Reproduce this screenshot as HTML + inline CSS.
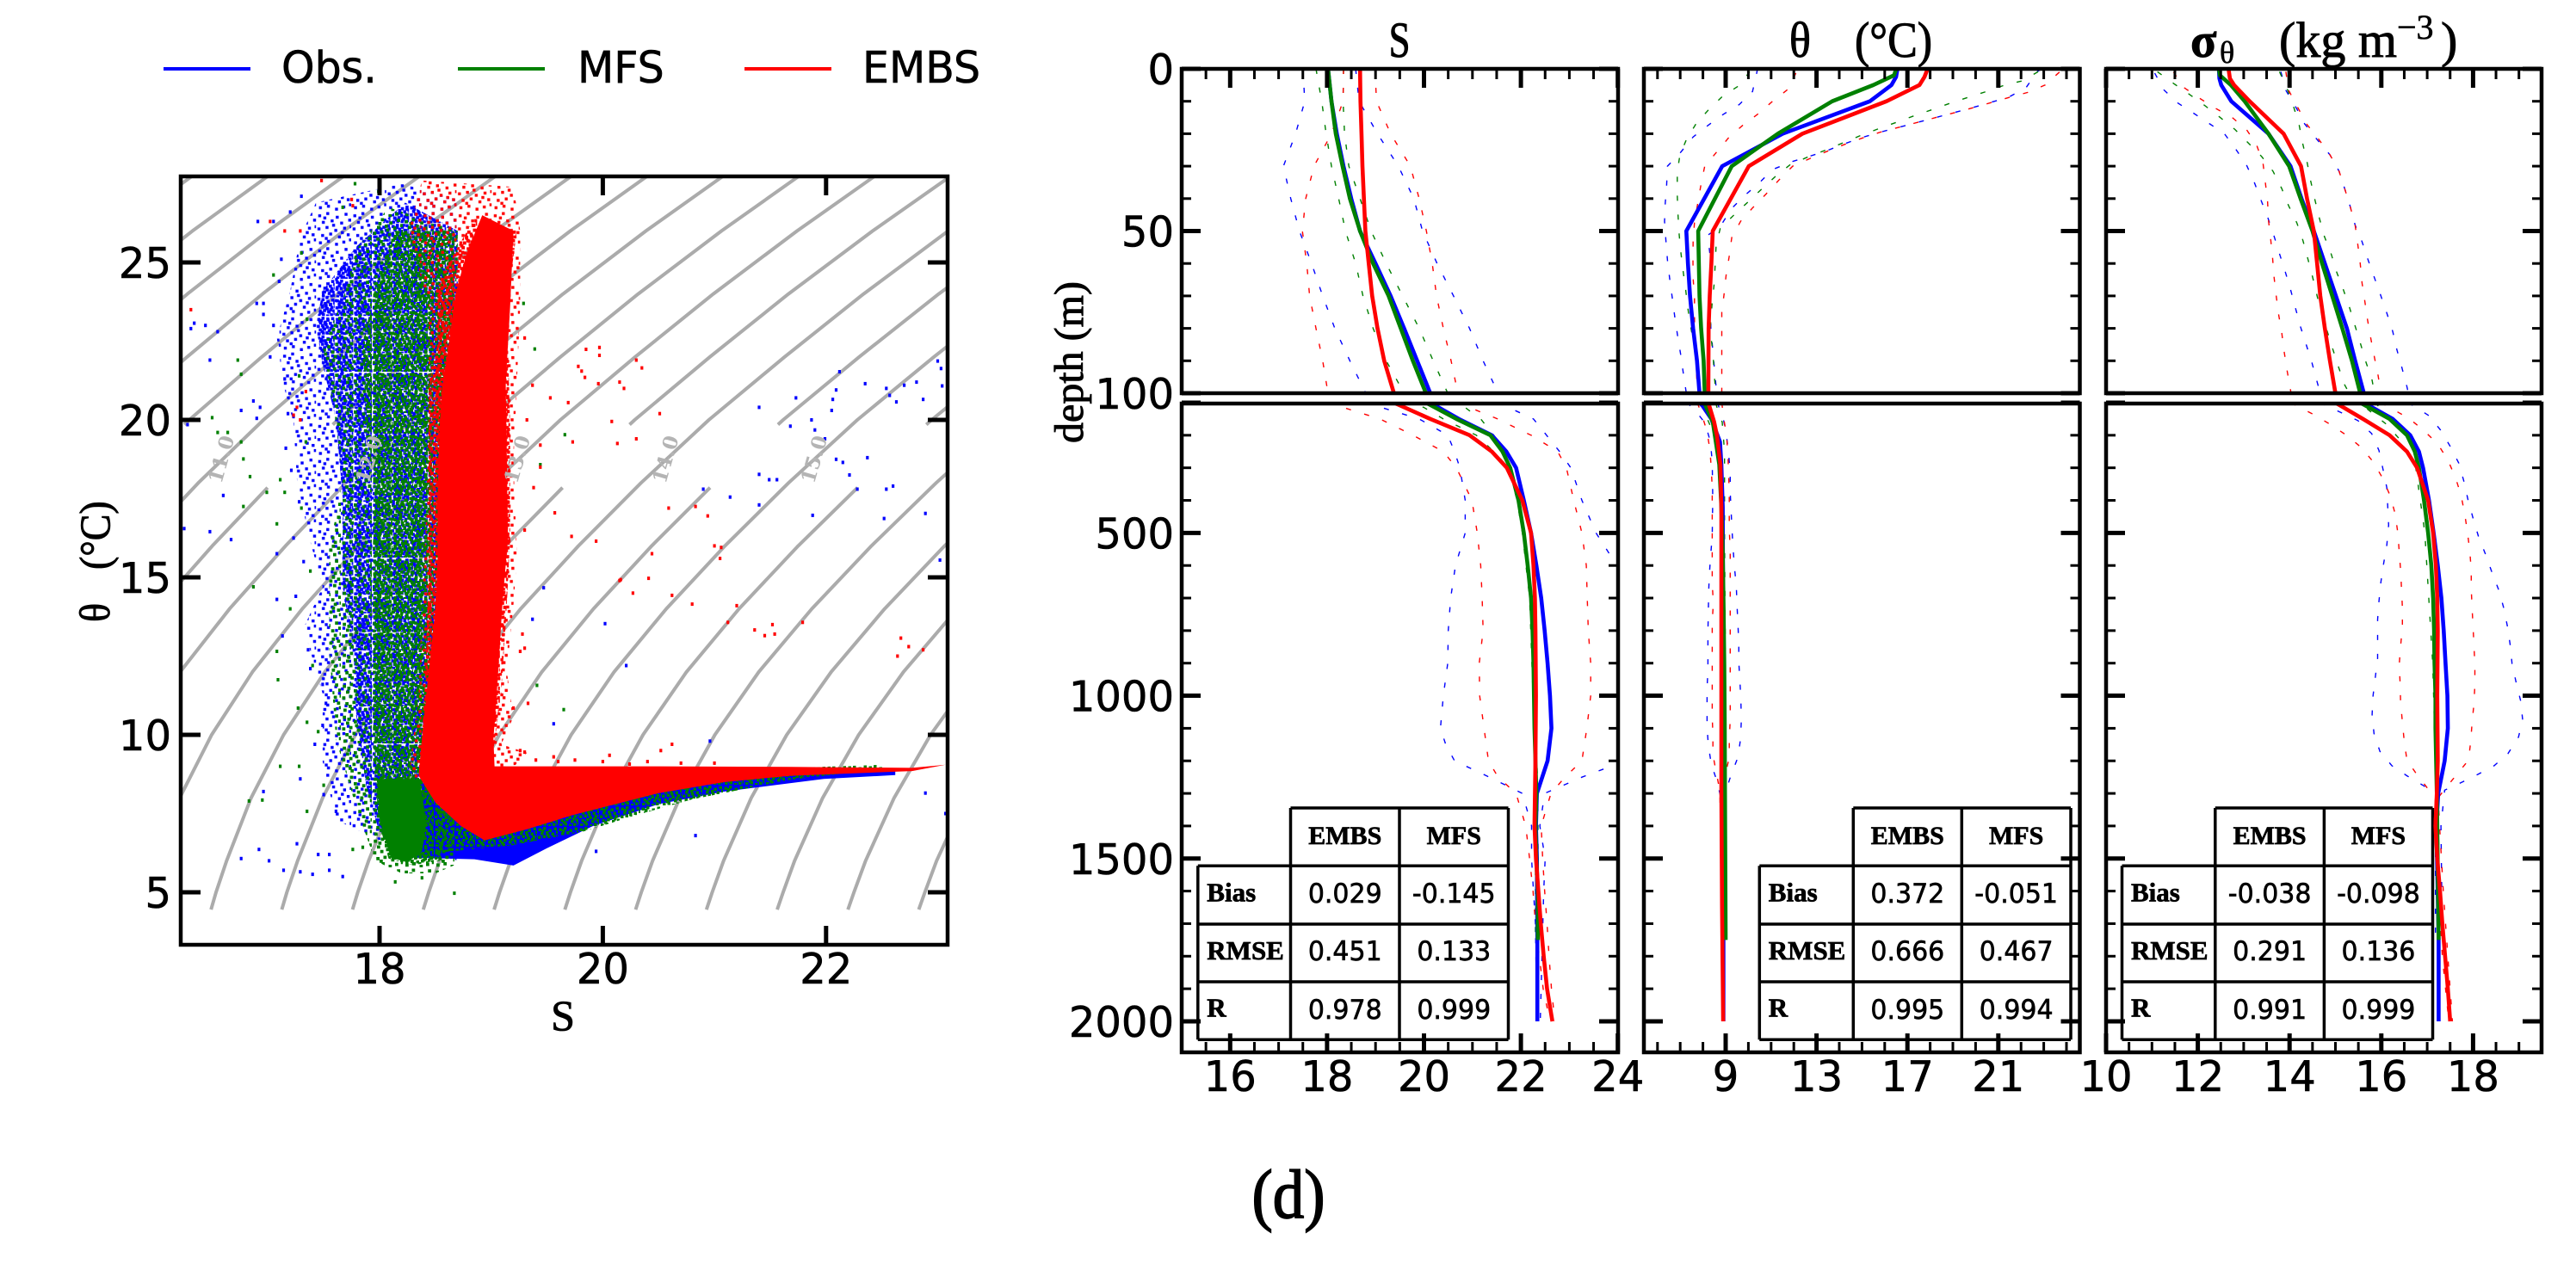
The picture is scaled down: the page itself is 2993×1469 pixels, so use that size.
<!DOCTYPE html>
<html lang="en">
<head>
<meta charset="utf-8">
<title>T-S diagram and vertical profiles</title>
<style>
html,body{margin:0;padding:0;background:#fff;overflow:hidden;}
svg{display:block;}
</style>
</head>
<body>
<svg id="figure" xmlns="http://www.w3.org/2000/svg" width="2993" height="1469" viewBox="0 0 2993 1469">
<defs id="defs">
<clipPath id="clip-ts"><rect x="210" y="205" width="891" height="893"/></clipPath>
<clipPath id="clip-s-up"><rect x="1373" y="80" width="507" height="377"/></clipPath>
<clipPath id="clip-s-lo"><rect x="1373" y="469" width="507" height="754"/></clipPath>
<clipPath id="clip-theta-up"><rect x="1910" y="80" width="506.5" height="377"/></clipPath>
<clipPath id="clip-theta-lo"><rect x="1910" y="469" width="506.5" height="754"/></clipPath>
<clipPath id="clip-sigma-up"><rect x="2447" y="80" width="506" height="377"/></clipPath>
<clipPath id="clip-sigma-lo"><rect x="2447" y="469" width="506" height="754"/></clipPath>
</defs>
<rect x="0" y="0" width="2993" height="1469" fill="#fff"/>
<g id="root"></g>
</svg>
<script>
/* ---------- legend ---------- */
const legendLabels = ['Obs.', 'MFS', 'EMBS'];
const seriesColors = ['#0000ff', '#008000', '#ff0000'];

/* ---------- T-S scatter: axis ticks ---------- */
const tsSalinityTicks = [18, 20, 22];
const tsThetaTicks = [5, 10, 15, 20, 25];

/* ---------- T-S scatter: isopycnal contours ---------- */
const isoTheta = [4.45, 5, 6, 8, 10, 12, 14, 16, 18, 20, 22, 24, 26, 28];
const isoOffset = [0, 0.045, 0.14, 0.36, 0.65, 1.02, 1.47, 1.98, 2.53, 3.13, 3.8, 4.5, 5.25, 6.05];
const isoSpacing = [0.634, 0.635, 0.636, 0.64, 0.644, 0.648, 0.652, 0.656, 0.661, 0.665, 0.669, 0.673, 0.677, 0.68];
const isoLevels = [-9, -8, -7, -6, -5, -4, -3, -2, -1, 0, 1, 2, 3, 4, 5, 6, 7, 8, 9, 10];
const isoGapLevels = [-5, -3, -1, 1, 3, 5];
const isoGapTheta = [17.85, 19.85];
const isoLabels = ['11.0', '12.0', '13.0', '14.0', '15.0'];
const isoLabelSalinity = [16.58, 17.9, 19.23, 20.56, 21.89];
const isoLabelTheta = 18.8;

/* ---------- T-S scatter: cloud envelopes [S, theta] ---------- */
const blueSparseCloud = [[18.2,27.5],[17.43,26.9],[17.29,25.8],[17.2,24.1],[17.08,22.6],[17.14,21.1],[17.23,19.9],[17.26,18.1],[17.37,16.25],[17.49,14.7],[17.32,13.4],[17.49,11.3],[17.49,9.15],[17.61,7.3],[17.96,6.7],[18.7,6],[18.7,27]];
const blueDenseCloud = [[18.23,26.9],[17.79,25.5],[17.49,24.1],[17.43,23],[17.49,21.75],[17.61,20],[17.67,17.5],[17.67,15],[17.67,14.7],[17.76,12.7],[17.79,10.6],[17.88,8.4],[17.99,7],[18.14,6.3],[18.44,6.07],[18.7,6.1],[18.7,26]];
const blueWedge = [[18.3,6.1],[18.85,6.05],[19.2,5.85],[19.5,6.4],[19.91,7.1],[20.5,7.8],[21.09,8.2],[21.98,8.6],[22.62,8.72],[22.62,8.85],[18.4,8.85]];
const greenSparseCloud = [[18.08,26.75],[17.79,25.4],[17.67,23.8],[17.49,22.35],[17.61,19.9],[17.67,18.1],[17.55,15.9],[17.55,12.7],[17.61,9.85],[17.79,7.7],[17.96,6],[18.2,5.6],[18.5,5.6],[18.67,5.86],[18.7,26]];
const greenDenseCloud = [[18.14,26],[17.96,24.2],[17.85,22.4],[17.88,19.9],[17.96,17.5],[17.91,15],[17.94,13.4],[17.94,9.85],[17.99,7.3],[18.08,6.07],[18.29,5.86],[18.55,6],[18.7,26]];
const greenCore = [[17.98,8.6],[18,7.3],[18.1,6.1],[18.25,5.95],[18.38,6.3],[18.42,7.2],[18.36,8.6]];
const greenWedge = [[18.35,6.2],[19.2,6.5],[19.85,6.95],[20.3,7.45],[20.8,7.95],[21.68,8.57],[22.5,8.92],[22.52,9.05],[21.68,8.95],[18.35,8.95]];
const redSparseCloud = [[18.38,27.6],[19.2,27.4],[19.26,26],[19.26,23.6],[19.23,21.15],[19.2,18.7],[19.23,15.65],[19.2,14.15],[19.14,12],[19.2,10.57],[19.09,9.7],[19.32,9.43],[19.1,8.6],[18.26,8.6],[18.35,11.3],[18.38,14.15],[18.41,16.25],[18.44,19.9],[18.44,23.6],[18.26,26]];
const redDenseCloud = [[18.85,26.4],[18.67,25.3],[18.52,24.2],[18.52,22.4],[18.44,21.15],[18.44,19.9],[18.44,17.5],[18.44,15],[18.41,12],[18.38,9.85],[18.38,8.7],[19,9],[19.09,11.3],[19.14,14.15],[19.17,16.25],[19.17,19.9],[19.14,23.6],[19.23,26]];
const redCore = [[18.92,26.5],[18.78,25.3],[18.68,24],[18.62,22.4],[18.56,21],[18.54,19.9],[18.52,17.5],[18.52,15.6],[18.5,14],[18.44,12],[18.38,9.9],[18.35,8.7],[18.5,7.85],[18.73,7.1],[18.94,6.65],[19.32,7],[19.73,7.45],[20.5,8.15],[21.09,8.5],[21.68,8.7],[22.77,8.85],[23.07,9.05],[22.77,8.95],[21.68,8.98],[20.5,9],[19.32,9],[19.03,9],[19.02,9.87],[19.05,11.3],[19.1,14.15],[19.15,16.25],[19.14,18.7],[19.13,21.15],[19.17,23.6],[19.2,26]];

/* ---------- T-S scatter: individually visible points [S, theta] ---------- */
const bluePoints = [[23,21.87],[23.03,21.63],[22.12,21.53],[22.35,21.15],[22.54,21],[22.7,21.1],[22.81,21.2],[23.04,21.08],[22.09,20.95],[22.06,20.65],[21.73,20.7],[22.57,20.78],[22.63,20.57],[22.87,20.65],[21.4,20.4],[22.05,20.3],[21.87,20],[21.68,19.8],[21.9,19.68],[21.99,19.4],[22.09,18.75],[22.15,18.65],[22.37,18.8],[22.21,18.25],[21.4,18.27],[21.49,18.1],[21.56,18.1],[20.9,17.8],[21.14,17.55],[21.4,17.3],[22.28,17.8],[22.54,17.8],[22.6,17.9],[21.88,16.97],[22.52,16.87],[22.89,17.03],[19.47,14.67],[23.02,15.55],[19.37,13.67],[20.02,13.53],[20.21,12.2],[19.56,10.35],[20.96,9.8],[22.89,8.15],[19.94,6.3],[20.83,6.8],[23.07,7.5],[16.31,22.9],[16.34,23.07],[16.44,23],[16.55,22.8],[16.91,26.3],[17.05,26.3],[16.9,23.7],[16.96,23.7],[16.96,23.35],[16.48,21.9],[16.28,19.85],[16.37,20],[16.25,16.55],[16.48,16.45],[16.67,16.2],[16.6,17.6],[16.76,20.3],[16.87,20.6],[16.9,20.05],[16.93,20.4],[17.08,15.75],[17.23,16.25],[16.76,6.07],[16.92,6.36],[17.01,6],[17.14,5.7],[17.29,5.65],[17.4,5.57],[17.55,5.7],[17.67,5.5],[17.26,6.54],[17.45,6.2],[17.55,6.2],[17.08,14.3],[17.13,13.14],[17.36,12.7],[17.49,11.6],[17.52,11],[17.49,10.3],[17.29,8.6],[16.96,8.2],[17.61,7.57],[17.05,23],[17.1,24.4],[17.12,25.1],[17.2,26.6],[17.3,27.1],[17.02,22],[17.15,21.3],[17.18,20.2],[17.16,19.1],[17.21,18.4],[17.28,17.4],[17.32,15.5],[17.25,14.4],[17.38,12.1],[17.42,9.7],[17.5,8.1]];
const greenPoints = [[16.5,20.07],[16.55,19.6],[16.64,19.6],[16.76,19.3],[16.78,18.76],[16.84,18.2],[16.99,17.7],[17.11,18.1],[17.15,17.7],[16.78,17.25],[17.08,16.7],[16.76,21.45],[16.73,21.9],[17.05,24.6],[17.78,27.5],[17.99,27.25],[17.67,26.75],[19.29,23.7],[19.39,22.25],[19.66,19.53],[19.44,18.58],[16.87,14.7],[17.2,14],[17.08,12.65],[17.09,11.75],[17.27,10.85],[17.35,10.4],[17.11,9],[17.28,9],[16.83,7.9],[16.95,7.93],[17.35,7.57],[17.76,6.36],[17.85,6.43],[19.41,11.57],[19.65,10.8],[18.67,4.97],[18.14,5.33],[18.38,5.46],[17.3,25.3],[17.35,23.2],[17.28,21.4],[17.34,19.3],[17.3,17.2],[17.38,15.2],[17.4,12.2],[17.45,10.1],[17.5,8.4]];
const redPoints = [[19.85,22.24],[19.97,22.3],[19.97,22.05],[20.3,21.9],[20.35,21.65],[19.78,21.7],[19.81,21.55],[19.84,21.35],[19.96,21.15],[20.15,21.2],[20.19,21],[19.37,21.1],[19.53,20.7],[19.69,20.55],[20.51,20.2],[20.08,19.95],[20.3,19.4],[20.13,19.25],[19.73,19.3],[19.44,19.2],[19.44,18.5],[19.38,17.85],[19.57,17.05],[19.72,16.3],[19.94,16.15],[20.59,17.2],[20.83,17.25],[20.94,16.95],[20.44,15.75],[21,16],[21.06,15.95],[21.05,15.6],[20.15,14.9],[16.31,23.5],[17.02,26.3],[17.15,26],[17.29,26],[17.23,20.15],[17.26,20.4],[17.29,20],[17.34,20.9],[17.48,27.6],[17.75,27],[17.76,26.8],[20.16,14.93],[20.41,14.97],[20.27,14.5],[20.62,14.43],[20.8,14.15],[21.2,14.1],[21.12,13.57],[21.36,13.33],[21.52,13.5],[21.54,13.2],[21.45,13.15],[21.79,13.57],[22.67,13.07],[22.74,12.8],[22.87,12.7],[22.64,12.5],[20.62,9.7],[20.52,9.5],[19.26,12.65],[19.3,12.75],[19.2,10.85],[19.26,9.5],[19.56,9.3],[20.06,9.35],[20.24,9.07],[19.3,9.45],[19.4,9.2],[19.6,9.15],[19.75,9.2],[20,9.15],[20.4,9.15],[20.7,9.1],[21,9.1],[19.3,22.6],[19.32,20],[19.3,16.5],[19.28,13.2],[19.33,11]];

/* ---------- Profile panels: axis ticks ---------- */
const sMajorTicks = [16, 18, 20, 22, 24];
const sMinorTicks = [15.5, 16.5, 17, 17.5, 18.5, 19, 19.5, 20.5, 21, 21.5, 22.5, 23, 23.5];
const thetaMajorTicks = [9, 13, 17, 21];
const thetaMinorTicks = [6, 7, 8, 10, 11, 12, 14, 15, 16, 18, 19, 20, 22, 23, 24];
const sigmaMajorTicks = [10, 12, 14, 16, 18];
const sigmaMinorTicks = [10.5, 11, 11.5, 12.5, 13, 13.5, 14.5, 15, 15.5, 16.5, 17, 17.5, 18.5, 19];
const upperDepthMajor = [0, 50, 100];
const upperDepthMinor = [10, 20, 30, 40, 60, 70, 80, 90];
const lowerDepthMajor = [100, 500, 1000, 1500, 2000];
const lowerDepthMinor = [200, 300, 400, 600, 700, 800, 900, 1100, 1200, 1300, 1400, 1600, 1700, 1800, 1900];

/* ---------- Salinity profiles [value, depth] ---------- */
const sObsMean = [[18.02,0],[18.09,10],[18.2,20],[18.34,30],[18.5,40],[18.68,50],[19,60],[19.31,70],[19.59,80],[19.86,90],[20.13,100],[20.72,150],[21.4,200],[21.7,250],[21.9,300],[22.06,400],[22.21,500],[22.32,600],[22.42,700],[22.49,800],[22.55,900],[22.6,1000],[22.63,1100],[22.55,1200],[22.33,1300],[22.31,1400],[22.33,1500],[22.34,1750],[22.34,2000]];
const sMfsMean = [[18.02,0],[18.09,10],[18.18,20],[18.32,30],[18.47,40],[18.68,50],[18.95,60],[19.27,70],[19.52,80],[19.77,90],[20.04,100],[20.67,150],[21.37,200],[21.62,250],[21.78,300],[21.95,400],[22.06,500],[22.14,600],[22.21,700],[22.24,800],[22.26,900],[22.27,1000],[22.28,1100],[22.32,1300],[22.3,1400],[22.32,1500],[22.35,1600],[22.35,1750]];
const sEmbsMean = [[18.68,0],[18.69,10],[18.71,20],[18.73,30],[18.76,40],[18.79,50],[18.86,60],[18.93,70],[19.04,80],[19.18,90],[19.38,100],[20.13,150],[20.94,200],[21.4,250],[21.71,300],[22.03,400],[22.21,500],[22.26,600],[22.29,700],[22.3,800],[22.31,1000],[22.3,1200],[22.28,1400],[22.31,1500],[22.36,1600],[22.41,1700],[22.47,1800],[22.54,1900],[22.65,2000]];
const sObsLow = [[17.5,0],[17.54,10],[17.35,20],[17.1,30],[17.25,40],[17.43,50],[17.68,60],[17.91,70],[18.16,80],[18.47,90],[18.8,100],[19.9,150],[20.49,200],[20.63,250],[20.74,300],[20.85,400],[20.85,500],[20.65,600],[20.55,700],[20.5,800],[20.49,900],[20.4,1000],[20.34,1100],[20.45,1150],[20.63,1200],[21.35,1250],[22.03,1300],[22.22,1400],[22.22,1500],[22.26,1600],[22.3,1700],[22.33,2000]];
const sObsHigh = [[18.59,0],[18.66,10],[19.04,20],[19.47,30],[19.79,40],[19.97,50],[20.27,60],[20.61,70],[20.94,80],[21.22,90],[21.53,100],[22.26,150],[22.53,200],[22.8,250],[23.03,300],[23.26,400],[23.55,500],[23.98,600],[24.3,700],[24.5,800],[24.6,900],[24.6,1000],[24.5,1100],[23.98,1210],[23.26,1250],[22.49,1300],[22.39,1400],[22.5,1500],[22.47,1600],[22.4,2000]];
const sMfsLow = [[17.77,0],[17.89,10],[17.98,20],[18.09,30],[18.24,40],[18.38,50],[18.59,60],[18.74,70],[18.95,80],[19.22,90],[19.59,100],[19.99,114],[20.4,150],[21.08,200],[21.44,250],[21.75,300],[21.92,400],[22.03,500],[22.18,700],[22.25,1000],[22.3,1300],[22.3,1750]];
const sMfsHigh = [[18.34,0],[18.33,10],[18.36,20],[18.45,30],[18.68,40],[18.91,50],[19.22,60],[19.56,70],[19.9,80],[20.19,90],[20.49,100],[20.85,115],[21.17,150],[21.44,200],[21.67,250],[21.8,300],[21.97,400],[22.08,500],[22.21,700],[22.29,1000],[22.35,1300],[22.36,1750]];
const sEmbsLow = [[18.34,0],[18.33,10],[18.09,20],[17.73,30],[17.56,40],[17.49,50],[17.58,60],[17.64,70],[17.77,80],[17.91,90],[18.02,100],[19.09,150],[19.77,200],[20.4,250],[20.67,300],[20.99,400],[21.1,500],[21.17,600],[21.2,700],[21.22,800],[21.14,900],[21.15,1000],[21.24,1100],[21.33,1200],[21.53,1250],[21.9,1300],[22.1,1400],[22.18,1500],[22.25,1600],[22.3,1700],[22.38,1800],[22.46,1900],[22.6,2000]];
const sEmbsHigh = [[18.99,0],[19.02,10],[19.31,20],[19.72,30],[19.9,40],[20.05,50],[20.17,60],[20.26,70],[20.4,80],[20.56,90],[20.7,100],[21.52,150],[22.21,200],[22.76,250],[22.94,300],[23.09,400],[23.26,500],[23.35,600],[23.37,700],[23.39,800],[23.44,900],[23.44,1000],[23.36,1100],[23.26,1200],[22.91,1250],[22.62,1300],[22.42,1400],[22.45,1500],[22.49,1600],[22.54,1700],[22.58,1800],[22.63,1900],[22.7,2000]];

/* ---------- Temperature profiles [value, depth] ---------- */
const thetaObsMean = [[16.56,0],[16.5,2.5],[16.3,5],[15.35,10],[11.51,20],[8.85,30],[7.27,50],[7.34,60],[7.43,70],[7.57,80],[7.74,90],[7.85,100],[7.99,110],[8.37,150],[8.56,185],[8.75,220],[8.81,290],[8.87,420],[8.9,1000],[8.9,2000]];
const thetaMfsMean = [[16.51,0],[16.41,2],[15.5,5],[13.69,10],[11.3,20],[9.27,30],[7.79,50],[7.85,70],[7.92,80],[8.03,90],[8.08,100],[8.12,110],[8.43,158],[8.72,290],[8.81,420],[8.87,555],[8.91,730],[8.94,907],[8.96,1083],[8.97,1294],[9,1750]];
const thetaEmbsMean = [[17.89,0],[17.75,2.5],[17.53,5],[16.08,10],[12.38,20],[10.02,30],[8.43,50],[8.37,60],[8.3,70],[8.25,80],[8.24,100],[8.28,110],[8.49,158],[8.62,202],[8.77,290],[8.81,422],[8.81,1294],[8.84,1647],[8.89,2000]];
const thetaObsLow = [[10.4,0],[10.35,2],[10.18,7],[9.6,11],[8.9,14],[8.21,17.5],[7.57,21],[6.99,26],[6.44,30],[6.4,36],[6.34,41.5],[6.31,47],[6.37,53],[6.44,59],[6.54,65],[6.66,71],[6.76,76.5],[6.88,82],[7.02,88],[7.14,94],[7.27,100],[7.55,114],[8.09,162],[8.33,220],[8.41,281],[8.43,392],[8.41,510],[8.34,568],[8.28,630],[8.25,687],[8.24,744],[8.22,801],[8.22,920],[8.18,977],[8.18,1096],[8.24,1153],[8.37,1211],[8.62,1263],[8.81,1320],[8.81,1800],[8.87,2000]];
const thetaObsHigh = [[22.9,0],[22.7,0.9],[22.23,5.7],[21.47,8.7],[20.64,10.4],[19.85,12],[19.05,13.5],[18.25,15],[17.45,16.5],[16.63,18],[15.82,19.5],[14.99,21.2],[14.19,23.2],[13.47,25.2],[12.67,27],[11.88,28.7],[11.08,31],[10.5,35],[9.85,39],[9.27,43],[8.76,48.6],[8.21,51.3],[8.3,56.6],[8.35,80],[8.5,92],[8.58,98],[8.62,100],[8.87,140],[9.03,198],[9.13,255],[9.2,315],[9.2,374],[9.24,431],[9.28,491],[9.33,550],[9.39,607],[9.47,665],[9.5,722],[9.54,782],[9.58,841],[9.58,898],[9.63,955],[9.67,1015],[9.69,1074],[9.66,1131],[9.54,1189],[9.25,1241],[9,1294],[8.87,1603],[8.87,2000]];
const thetaMfsLow = [[10.06,0.9],[9.56,5.3],[8.87,8.4],[8.25,12.6],[7.71,16.8],[7.28,21.7],[6.99,26.5],[6.87,31.8],[6.87,39],[6.9,44.7],[6.95,50.8],[7.02,56],[7.12,62],[7.24,68],[7.34,74],[7.45,79],[7.6,85],[7.72,90.6],[7.82,96],[7.89,100],[7.95,110],[8.5,200],[8.75,300],[8.87,500],[8.95,1000],[8.97,1750]];
const thetaMfsHigh = [[22.75,0.9],[22.06,3.7],[21.25,5.1],[20.47,7],[19.66,8.8],[18.88,10.6],[18.08,12.6],[17.28,14.5],[16.51,16.5],[15.75,18.4],[14.96,20.5],[14.2,22.7],[13.42,25],[12.67,27],[11.83,29.6],[11.22,33],[10.61,36.9],[9.99,41],[9.37,45],[8.76,49.2],[8.58,54.4],[8.5,65.9],[8.4,72.5],[8.32,80.5],[8.44,87.5],[8.51,95.5],[8.58,100],[8.6,110],[8.85,160],[8.95,250],[8.95,500],[9,1000],[9.02,1750]];
const thetaEmbsLow = [[12.09,1.3],[11.76,6.2],[11.08,9.9],[10.47,13.7],[9.77,17.3],[9.16,21],[8.61,25.6],[8.08,30],[7.92,35.4],[7.77,41.6],[7.63,47.3],[7.57,53],[7.56,58.8],[7.57,64.5],[7.63,70.7],[7.63,82],[7.69,88],[7.72,93.7],[7.75,100],[7.93,132],[8.18,189],[8.31,246],[8.37,306],[8.41,365],[8.41,656],[8.46,715],[8.41,773],[8.41,1066],[8.44,1122],[8.44,1181],[8.6,1240],[8.75,1294],[8.85,2000]];
const thetaEmbsHigh = [[23.69,1],[23.06,5],[22.28,7.3],[21.48,8.8],[20.69,10.4],[19.89,12],[19.08,13.5],[18.25,15],[17.45,16.5],[16.63,18],[15.82,19.5],[14.99,21.4],[14.24,23.3],[13.47,25.4],[12.72,27.6],[11.95,30],[11.34,34.3],[10.79,38.5],[10.18,42.9],[9.66,47],[9.27,52],[9.15,58],[9.02,63.7],[8.93,69.4],[8.83,75],[8.83,100],[8.91,145],[9.04,202],[9.1,257],[9.13,317],[9.16,374],[9.16,491],[9.2,550],[9.2,1074],[9.16,1133],[9.16,1190],[8.97,1246],[8.9,1294],[8.92,2000]];

/* ---------- Density profiles [value, depth] ---------- */
const sigmaObsMean = [[12.46,0],[12.47,3],[12.51,5],[12.73,10],[13.54,20],[14.02,30],[14.26,40],[14.53,50],[14.77,60],[15.01,70],[15.25,80],[15.43,90],[15.62,100],[16.25,150],[16.63,200],[16.82,250],[16.91,300],[17.04,400],[17.14,500],[17.23,600],[17.31,700],[17.36,800],[17.4,900],[17.44,1000],[17.45,1100],[17.38,1200],[17.24,1300],[17.2,1400],[17.25,1750],[17.25,2000]];
const sigmaMfsMean = [[12.46,0],[12.48,2],[12.72,5],[13.02,10],[13.54,20],[13.99,30],[14.24,40],[14.5,50],[14.71,60],[14.93,70],[15.15,80],[15.36,90],[15.54,100],[16.18,150],[16.56,200],[16.73,250],[16.82,300],[16.93,400],[17.02,500],[17.09,600],[17.13,700],[17.15,800],[17.16,900],[17.18,1000],[17.18,1100],[17.21,1300],[17.22,1400],[17.25,1750]];
const sigmaEmbsMean = [[12.67,0],[12.7,3],[12.79,5],[13.13,10],[13.87,20],[14.25,30],[14.38,40],[14.53,50],[14.6,60],[14.67,70],[14.77,80],[14.88,90],[15,100],[15.6,150],[16.18,200],[16.56,250],[16.78,300],[17.02,400],[17.13,500],[17.19,600],[17.22,700],[17.23,800],[17.22,1000],[17.23,1200],[17.21,1300],[17.18,1400],[17.22,1500],[17.28,1600],[17.33,1700],[17.39,1800],[17.45,1900],[17.5,2000]];
const sigmaObsLow = [[11.06,1.3],[11.26,6.5],[11.55,10.4],[11.89,13.5],[12.24,16.8],[12.58,20],[12.83,24.8],[13.06,29.6],[13.23,35],[13.37,40.2],[13.53,46],[13.66,51.5],[13.78,57],[13.9,62.3],[14.02,68],[14.13,73.8],[14.24,79.6],[14.36,84.9],[14.49,90.7],[14.6,96.5],[14.67,100],[15.49,155],[15.79,195],[15.95,247],[16.04,306],[16.12,361],[16.16,476],[16.12,537],[16.05,594],[15.99,651],[15.95,709],[15.92,766],[15.92,885],[15.87,942],[15.82,1000],[15.8,1058],[15.84,1116],[15.97,1171],[16.23,1215],[16.56,1246],[16.93,1277],[17.18,1303],[17.18,1750]];
const sigmaObsHigh = [[13.81,0.9],[13.92,6.6],[14.16,12.4],[14.33,17],[14.6,21.8],[14.88,26.5],[15.08,31.6],[15.2,36.9],[15.32,42.4],[15.43,48.2],[15.58,53.3],[15.71,58.8],[15.85,64.4],[15.99,70],[16.12,75.3],[16.25,81],[16.34,86.6],[16.45,92.2],[16.56,98],[16.59,100],[17.04,140],[17.29,184],[17.5,234],[17.69,286],[17.8,341],[17.89,398],[18,455],[18.12,512],[18.27,565],[18.41,621],[18.56,675],[18.67,731],[18.75,788],[18.81,845],[18.85,902],[18.94,960],[19.04,1017],[19.08,1074],[18.99,1127],[18.76,1178],[18.46,1215],[18.1,1242],[17.72,1268],[17.38,1290],[17.3,1400],[17.33,1750]];
const sigmaMfsLow = [[11.12,0.9],[11.48,4.6],[11.82,7.9],[12.15,11.3],[12.48,14.9],[12.81,18.7],[13.09,22.7],[13.39,27],[13.64,31.6],[13.83,36.9],[13.98,42.2],[14.16,47.5],[14.29,52.9],[14.4,58.6],[14.5,64],[14.6,70],[14.7,75.6],[14.83,81.3],[14.95,86.7],[15.07,92],[15.2,97.4],[15.3,100],[15.7,120],[16.1,165],[16.45,220],[16.75,300],[16.95,500],[17.12,900],[17.2,1300],[17.23,1750]];
const sigmaMfsHigh = [[13.78,0.9],[13.96,6.6],[14.1,12.2],[14.21,17.4],[14.29,23.3],[14.38,28.7],[14.46,34.5],[14.55,40.2],[14.65,46],[14.76,51.7],[14.91,57.2],[15.03,62.8],[15.17,68],[15.31,73.7],[15.43,79.3],[15.55,84.9],[15.67,90.6],[15.8,96],[15.85,100],[16.1,130],[16.4,170],[16.7,230],[16.88,320],[17.05,500],[17.18,900],[17.24,1300],[17.27,1750]];
const sigmaEmbsLow = [[11.47,1],[11.69,5.7],[12.03,9],[12.39,12.2],[12.75,15],[13.06,18.7],[13.28,23.4],[13.42,29],[13.47,34.9],[13.52,40.7],[13.54,46.7],[13.59,52.6],[13.63,58.4],[13.66,64],[13.71,70],[13.76,75.6],[13.83,81.3],[13.88,87],[13.95,93.3],[14.02,99],[14.16,110],[14.55,138],[14.9,168],[15.24,200],[15.56,237],[15.82,281],[16.03,332],[16.19,385],[16.3,440],[16.36,500],[16.39,558],[16.42,614],[16.44,673],[16.46,730],[16.46,788],[16.42,848],[16.39,905],[16.41,964],[16.42,1021],[16.46,1081],[16.5,1140],[16.56,1198],[16.78,1243],[17.04,1290],[17.18,1313],[17.15,1400],[17.25,1600],[17.33,1800],[17.47,2000]];
const sigmaEmbsHigh = [[13.92,0.9],[13.98,6.6],[14.19,12.2],[14.38,17.2],[14.64,21.8],[14.88,26.5],[15.08,31.6],[15.2,36.9],[15.32,42.4],[15.43,48.2],[15.49,54.4],[15.54,60],[15.58,66],[15.64,71.6],[15.7,77.4],[15.77,83],[15.85,88.9],[15.93,94.6],[15.99,100],[16.25,120],[16.61,149],[16.93,186],[17.23,227],[17.45,276],[17.62,331],[17.74,385],[17.82,443],[17.88,500],[17.93,558],[17.96,617],[17.96,673],[17.98,732],[18,790],[18.02,848],[18.04,905],[18.04,966],[18.02,1023],[17.98,1081],[17.95,1140],[17.9,1198],[17.65,1241],[17.39,1286],[17.24,1313],[17.27,1400],[17.35,1600],[17.45,1800],[17.55,2000]];

/* ---------- Statistics tables ---------- */
const statColumns = ['EMBS', 'MFS'];
const statRows = ['Bias', 'RMSE', 'R'];
const sStats = [['0.029', '-0.145'], ['0.451', '0.133'], ['0.978', '0.999']];
const thetaStats = [['0.372', '-0.051'], ['0.666', '0.467'], ['0.995', '0.994']];
const sigmaStats = [['-0.038', '-0.098'], ['0.291', '0.136'], ['0.991', '0.999']];

/* ---------- helpers ---------- */
const NS = 'http://www.w3.org/2000/svg';
const root = document.getElementById('root');
const defs = document.getElementById('defs');
const SANS = '"DejaVu Sans", "Liberation Sans", sans-serif';
const SERIF = '"Liberation Serif", "DejaVu Serif", serif';

function make(tag, name, parent, attrs) {
  const el = document.createElementNS(NS, tag);
  
  
  for (const k in attrs) el.setAttribute(k, attrs[k]);
  parent.appendChild(el);
  return el;
}
function group(name, parent, attrs) { return make('g', name, parent, attrs || {}); }
function line(name, parent, x1, y1, x2, y2, w, color) {
  return make('line', name, parent, {x1: x1, y1: y1, x2: x2, y2: y2, stroke: color || '#000', 'stroke-width': w});
}
function label(name, parent, str, x, y, o) {
  const sx = o.sx || 1, sy = o.sy || 1, rot = o.rot || 0;
  const el = make('text', name, parent, {
    transform: 'translate(' + x + ',' + y + ') rotate(' + rot + ') scale(' + sx + ',' + sy + ')',
    'font-family': o.family || SANS,
    'font-size': o.size,
    'text-anchor': o.anchor || 'middle',
    fill: o.fill || '#000',
    stroke: o.fill || '#000',
    'stroke-width': o.heavy === undefined ? 0.6 : o.heavy
  });
  if (o.weight) el.setAttribute('font-weight', o.weight);
  el.textContent = str;
  return el;
}
function pointsPath(pts, fx, fy, close) {
  return pts.map(function (p, i) { return (i ? 'L' : 'M') + fx(p[0]).toFixed(1) + ' ' + fy(p[1]).toFixed(1); }).join('') + (close ? 'Z' : '');
}
/* keeps only the part of a profile that belongs to one depth scale */
function depthSegment(curve, isUpper) {
  const out = [];
  for (let i = 0; i < curve.length; i++) {
    const p = curve[i], d = p[1];
    if (isUpper ? d <= 100 : d >= 100) out.push(p);
    const n = curve[i + 1];
    if (n && (d - 100) * (n[1] - 100) < 0) {
      const f = (100 - d) / (n[1] - d);
      out.push([p[0] + f * (n[0] - p[0]), 100]);
    }
  }
  return out;
}
/* keeps only the part of a contour that falls near the T-S axes */
function salinitySegment(pts) {
  const lo = 16.0, hi = 23.4, out = [];
  for (let i = 0; i < pts.length; i++) {
    const p = pts[i], n = pts[i + 1];
    if (p[0] >= lo && p[0] <= hi) out.push(p);
    if (n) {
      [lo, hi].forEach(function (b) {
        if ((p[0] - b) * (n[0] - b) < 0) {
          const f = (b - p[0]) / (n[0] - p[0]);
          out.push([b, p[1] + f * (n[1] - p[1])]);
        }
      });
    }
  }
  return out;
}

/* ---------- speckle patterns (tile of dots used to shade the dense point clouds) ---------- */
const speckleTile = [[3,5],[14,2],[27,7],[39,3],[8,14],[20,12],[33,15],[44,11],[2,23],[13,21],[25,25],[37,22],[7,32],[18,30],[30,34],[42,31],[4,42],[15,40],[26,44],[36,41],[45,38],[10,8],[22,18],[34,28],[46,20],[12,36]];
function speckle(id, color, dot, scale) {
  const p = document.createElementNS(NS, 'pattern');
  p.setAttribute('id', id);
  p.setAttribute('patternUnits', 'userSpaceOnUse');
  p.setAttribute('width', 48);
  p.setAttribute('height', 48);
  p.setAttribute('patternTransform', 'scale(' + scale + ')');
  speckleTile.forEach(function (d) {
    const r = document.createElementNS(NS, 'rect');
    r.setAttribute('x', d[0]);
    r.setAttribute('y', d[1]);
    r.setAttribute('width', dot);
    r.setAttribute('height', dot);
    r.setAttribute('fill', color);
    p.appendChild(r);
  });
  defs.appendChild(p);
}
speckle('blue-sparse', '#0000ff', 4, 0.85);
speckle('blue-dense', '#0000ff', 8, 0.45);
speckle('green-sparse', '#008000', 5, 0.75);
speckle('green-dense', '#008000', 7, 0.5);
speckle('red-sparse', '#ff0000', 4, 0.85);
speckle('red-dense', '#ff0000', 7, 0.55);

/* ---------- legend ---------- */
const legendGroup = group('legend', root);
const legendLineStart = [190, 532, 865];
const legendTextStart = [327, 671, 1002];
legendLabels.forEach(function (txt, i) {
  const entry = group('legend-entry-' + txt.replace('.', '').toLowerCase(), legendGroup);
  line('legend-line', entry, legendLineStart[i], 80, legendLineStart[i] + 101, 80, 4, seriesColors[i]);
  label('legend-label', entry, txt, legendTextStart[i], 96, {size: 49, anchor: 'start', sy: 1.03});
});

/* ---------- T-S scatter ---------- */
const tsX = function (s) { return 441 + (s - 18) * 129.7; };
const tsY = function (t) { return 1037 - (t - 5) * 36.6; };
const tsPanel = group('ts-diagram', root);
const tsPlot = group('ts-plot-area', tsPanel, {'clip-path': 'url(#clip-ts)'});

function isoS(theta, k) {
  let i = 0;
  while (i < isoTheta.length - 2 && theta > isoTheta[i + 1]) i++;
  const f = (theta - isoTheta[i]) / (isoTheta[i + 1] - isoTheta[i]);
  const off = isoOffset[i] + f * (isoOffset[i + 1] - isoOffset[i]);
  const sp = isoSpacing[i] + f * (isoSpacing[i + 1] - isoSpacing[i]);
  return 16.49 + off + k * sp;
}
const isoGroup = group('isopycnal-contours', tsPlot);
isoLevels.forEach(function (k) {
  const piece = function (list) {
    const seg = salinitySegment(list.map(function (t) { return [isoS(t, k), t]; }));
    return seg.length > 1 ? pointsPath(seg, tsX, tsY) : '';
  };
  let d = '';
  if (isoGapLevels.indexOf(k) >= 0) {
    const lo = isoTheta.filter(function (t) { return t < isoGapTheta[0]; }).concat([isoGapTheta[0]]);
    const hi = [isoGapTheta[1]].concat(isoTheta.filter(function (t) { return t > isoGapTheta[1]; }));
    d = piece(lo) + piece(hi);
  } else {
    d = piece(isoTheta);
  }
  if (d) make('path', 'isopycnal-line', isoGroup, {d: d, fill: 'none', stroke: '#ababab', 'stroke-width': 4, 'stroke-linejoin': 'round'});
});

function cloud(name, pts, fill) {
  make('path', name, tsPlot, {d: pointsPath(pts, tsX, tsY, true), fill: fill, stroke: 'none'});
}
function dots(name, pts, color) {
  const g = group(name, tsPlot);
  pts.forEach(function (p) {
    make('rect', 'scatter-point', g, {x: (tsX(p[0]) - 1.6).toFixed(1), y: (tsY(p[1]) - 2).toFixed(1), width: 3.2, height: 4, fill: color});
  });
}
dots('obs-points', bluePoints, '#0000ff');
cloud('obs-cloud-sparse', blueSparseCloud, 'url(#blue-sparse)');
cloud('obs-cloud-dense', blueDenseCloud, 'url(#blue-dense)');
cloud('obs-cloud-wedge', blueWedge, '#0000ff');
dots('mfs-points', greenPoints, '#008000');
cloud('mfs-cloud-sparse', greenSparseCloud, 'url(#green-sparse)');
cloud('mfs-cloud-dense', greenDenseCloud, 'url(#green-dense)');
cloud('mfs-cloud-core', greenCore, '#008000');
cloud('mfs-cloud-wedge', greenWedge, 'url(#green-dense)');
dots('embs-points', redPoints, '#ff0000');
cloud('embs-cloud-sparse', redSparseCloud, 'url(#red-sparse)');
cloud('embs-cloud-dense', redDenseCloud, 'url(#red-dense)');
cloud('embs-cloud-core', redCore, '#ff0000');

isoLabels.forEach(function (txt, i) {
  label('isopycnal-label', tsPanel, txt, tsX(isoLabelSalinity[i]) + 8, tsY(isoLabelTheta) + 4, {size: 23, rot: -74, family: '"DejaVu Serif", serif', fill: '#b4b4b4', weight: 'bold', heavy: 0});
});

make('rect', 'ts-axes-frame', tsPanel, {x: 210, y: 205, width: 891, height: 893, fill: 'none', stroke: '#000', 'stroke-width': 4.5});
tsSalinityTicks.forEach(function (v) {
  const x = tsX(v);
  line('ts-x-tick-bottom', tsPanel, x, 1098, x, 1076, 5);
  line('ts-x-tick-top', tsPanel, x, 205, x, 227, 5);
  label('ts-x-tick-label', tsPanel, String(v), x, 1143, {size: 48, sy: 1.03});
});
tsThetaTicks.forEach(function (v) {
  const y = tsY(v);
  line('ts-y-tick-left', tsPanel, 210, y, 233, y, 5);
  line('ts-y-tick-right', tsPanel, 1101, y, 1078, y, 5);
  label('ts-y-tick-label', tsPanel, String(v), 199, y + 18, {size: 48, sy: 1.03, anchor: 'end'});
});
label('ts-x-axis-title', tsPanel, 'S', 654, 1197, {size: 50, family: SERIF, heavy: 0.9});
label('ts-y-axis-title-theta', tsPanel, 'θ', 127, 723, {size: 50, sx: 0.92, rot: -90, anchor: 'start', family: SERIF, heavy: 0.9});
label('ts-y-axis-title-unit', tsPanel, '(°C)', 127, 662, {size: 50, sx: 0.92, rot: -90, anchor: 'start', family: SERIF, heavy: 0.9});

/* ---------- Profile panels ---------- */
const upperY = function (d) { return 80 + d * 3.77; };
const lowerY = function (d) { return 468 + (d - 100) * 0.3784; };
const panels = [
  {key: 's', left: 1373, right: 1880, x: function (v) { return 1373 + (v - 15) * 56.3; }, major: sMajorTicks, minor: sMinorTicks,
   mean: [sObsMean, sMfsMean, sEmbsMean], spread: [[sObsLow, sObsHigh], [sMfsLow, sMfsHigh], [sEmbsLow, sEmbsHigh]],
   stats: sStats, table: [1391.8, 1499.5, 1626, 1752.5]},
  {key: 'theta', left: 1910, right: 2416.5, x: function (v) { return 2005 + (v - 9) * 26.4; }, major: thetaMajorTicks, minor: thetaMinorTicks,
   mean: [thetaObsMean, thetaMfsMean, thetaEmbsMean], spread: [[thetaObsLow, thetaObsHigh], [thetaMfsLow, thetaMfsHigh], [thetaEmbsLow, thetaEmbsHigh]],
   stats: thetaStats, table: [2044.3, 2153.3, 2279.3, 2406]},
  {key: 'sigma', left: 2447, right: 2953, x: function (v) { return 2447 + (v - 10) * 53.3; }, major: sigmaMajorTicks, minor: sigmaMinorTicks,
   mean: [sigmaObsMean, sigmaMfsMean, sigmaEmbsMean], spread: [[sigmaObsLow, sigmaObsHigh], [sigmaMfsLow, sigmaMfsHigh], [sigmaEmbsLow, sigmaEmbsHigh]],
   stats: sigmaStats, table: [2465.5, 2573.8, 2700.4, 2826.5]}
];
const seriesNames = ['obs', 'mfs', 'embs'];
const tableRowY = [939, 1006.3, 1074, 1141, 1208.3];
const tableHeaderBase = 981;
const tableRowHeaderBase = [1047.7, 1115, 1181.7];
const tableValueBase = [1049, 1116, 1184];

panels.forEach(function (p, pi) {
  const g = group(p.key + '-profile-panel', root);

  /* statistics table */
  const t = group(p.key + '-stats-table', g);
  const tx = p.table;
  line('table-border', t, tx[1], tableRowY[0], tx[3], tableRowY[0], 3.5);
  for (let r = 1; r < tableRowY.length; r++) line('table-border', t, tx[0], tableRowY[r], tx[3], tableRowY[r], 3.5);
  line('table-border', t, tx[0], tableRowY[1], tx[0], tableRowY[4], 3.5);
  for (let c = 1; c < tx.length; c++) line('table-border', t, tx[c], tableRowY[0], tx[c], tableRowY[4], 3.5);
  statColumns.forEach(function (txt, c) {
    label('table-column-header', t, txt, (tx[c + 1] + tx[c + 2]) / 2, tableHeaderBase, {size: 30, family: SERIF, weight: 'bold', heavy: 0.7});
  });
  statRows.forEach(function (txt, r) {
    label('table-row-header', t, txt, tx[0] + 10.5, tableRowHeaderBase[r], {size: 31, family: SERIF, weight: 'bold', anchor: 'start', heavy: 0.7});
    p.stats[r].forEach(function (val, c) {
      label('table-value', t, val, (tx[c + 1] + tx[c + 2]) / 2, tableValueBase[r], {size: 30, sy: 1.05});
    });
  });

  /* profile lines: each profile is drawn on the upper and the lower depth scale */
  [['up', upperY, true], ['lo', lowerY, false]].forEach(function (seg) {
    const clip = group(p.key + '-profiles-' + seg[0], g, {'clip-path': 'url(#clip-' + p.key + '-' + seg[0] + ')'});
    p.spread.forEach(function (pair, s) {
      pair.forEach(function (curve) {
        make('path', seriesNames[s] + '-spread-line', clip, {d: pointsPath(depthSegment(curve, seg[2]), p.x, seg[1]), fill: 'none', stroke: seriesColors[s], 'stroke-width': 1.4, 'stroke-dasharray': '6 16'});
      });
    });
    p.mean.forEach(function (curve, s) {
      make('path', seriesNames[s] + '-mean-line', clip, {d: pointsPath(depthSegment(curve, seg[2]), p.x, seg[1]), fill: 'none', stroke: seriesColors[s], 'stroke-width': 4.6, 'stroke-linejoin': 'round'});
    });
  });

  /* frames */
  make('rect', p.key + '-upper-frame', g, {x: p.left, y: 80, width: p.right - p.left, height: 377, fill: 'none', stroke: '#000', 'stroke-width': 4.5});
  make('rect', p.key + '-lower-frame', g, {x: p.left, y: 469, width: p.right - p.left, height: 754, fill: 'none', stroke: '#000', 'stroke-width': 4.5});

  /* x ticks */
  p.major.forEach(function (v) {
    const x = p.x(v);
    line('x-major-tick-top', g, x, 80, x, 102, 5);
    line('x-major-tick-bottom', g, x, 1223, x, 1201, 5);
    label('x-tick-label', g, String(v), x, 1268, {size: 48, sy: 1.03});
  });
  p.minor.forEach(function (v) {
    const x = p.x(v);
    line('x-minor-tick-top', g, x, 80, x, 92, 3);
    line('x-minor-tick-bottom', g, x, 1223, x, 1211, 3);
  });

  /* depth ticks */
  [[upperDepthMajor, upperDepthMinor, upperY], [lowerDepthMajor, lowerDepthMinor, lowerY]].forEach(function (set) {
    set[0].forEach(function (d) {
      const y = set[2](d);
      line('depth-major-tick-left', g, p.left, y, p.left + 22, y, 5);
      line('depth-major-tick-right', g, p.right, y, p.right - 22, y, 5);
    });
    set[1].forEach(function (d) {
      const y = set[2](d);
      line('depth-minor-tick-left', g, p.left, y, p.left + 11, y, 3);
      line('depth-minor-tick-right', g, p.right, y, p.right - 11, y, 3);
    });
  });

  if (pi === 0) {
    [[0, upperY], [50, upperY], [100, upperY], [500, lowerY], [1000, lowerY], [1500, lowerY], [2000, lowerY]].forEach(function (e) {
      label('depth-tick-label', g, String(e[0]), 1364, e[1](e[0]) + 18, {size: 48, sy: 1.03, anchor: 'end'});
    });
  }
});

label('depth-axis-title', root, 'depth (m)', 1258, 421, {size: 48, rot: -90, family: SERIF, heavy: 0.9});
label('salinity-panel-title', root, 'S', 1626, 66, {size: 52, sy: 1.12, sx: 0.86, family: SERIF, heavy: 0.9});
label('temperature-panel-title-symbol', root, 'θ', 2079, 66, {size: 52, sy: 1.12, anchor: 'start', family: SERIF, heavy: 0.9});
label('temperature-panel-title-unit', root, '(°C)', 2155, 66, {size: 52, sy: 1.12, anchor: 'start', family: SERIF, heavy: 0.9});
label('density-panel-title-symbol', root, 'σ', 2545, 66, {size: 56, anchor: 'start', family: SERIF, weight: 'bold', heavy: 0.9});
label('density-panel-title-subscript', root, 'θ', 2579, 73, {size: 36, anchor: 'start', family: SERIF, heavy: 0.6});
label('density-panel-title-unit', root, '(kg m', 2648, 66, {size: 58, anchor: 'start', family: SERIF, heavy: 0.9});
label('density-panel-title-exponent', root, '−3', 2785, 45, {size: 40, anchor: 'start', family: SERIF, heavy: 0.6});
label('density-panel-title-close', root, ')', 2836, 66, {size: 58, anchor: 'start', family: SERIF, heavy: 0.9});
label('figure-panel-letter', root, '(d)', 1497, 1415, {size: 73, sy: 1.1, family: SERIF, heavy: 1.5});
</script>
</body>
</html>
